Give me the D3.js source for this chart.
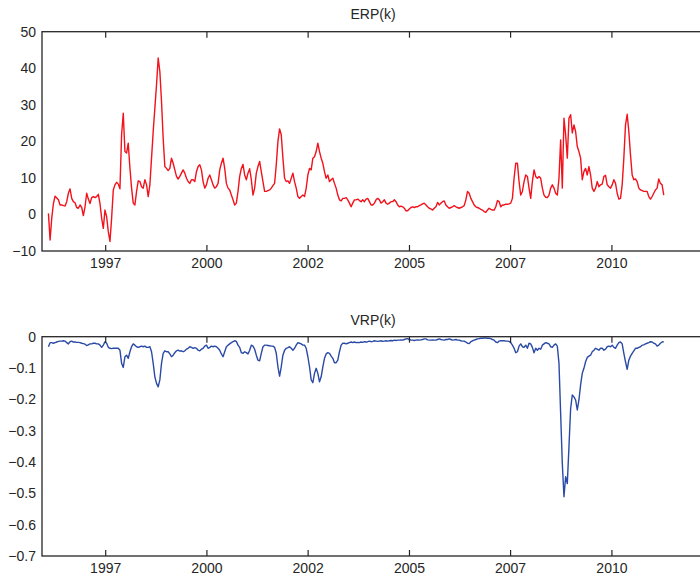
<!DOCTYPE html>
<html>
<head>
<meta charset="utf-8">
<script src="https://cdn.jsdelivr.net/npm/d3@7/dist/d3.min.js"></script>
<style>
  body { margin: 0; background: #fff; }
  svg { display: block; }
  text { font-family: "Liberation Sans", Arial, Helvetica, sans-serif; }
</style>
</head>
<body>
<svg id="chart" width="700" height="582"></svg>
<script>
// Half-monthly observations (15-day step) starting early February 1996
const startDate = new Date(1996, 1, 6);
const stepDays = 15;

// Equity risk premium, ERP(k)
const erp = [
  0.3, -7, -1, 3, 5, 4.5, 4, 2.6, 2.6, 2.4, 2.3, 3.5, 5.8, 7, 4.4, 3.5, 3.2, 1.9, 1.7, 2.6,
  1.9, -0.3, 2.1, 5.8, 4.2, 3, 4.6, 4.9, 4.6, 4.9, 5.5, 3, -1, -3.8, 1.2, -0.6, -4.7, -7.4, -1, 6.7,
  8.1, 8.8, 8.3, 7, 21.8, 27.7, 17.2, 16.8, 19.5, 12.7, 7.2, 3.1, 2.6, 6.3, 9.2, 9, 7.6, 7.2, 9.5, 8.1,
  4.9, 8.1, 15.4, 22.7, 29.1, 35.5, 42.8, 39.1, 30.9, 20.8, 13.1, 12.6, 12, 12.6, 15.4, 14, 12.2, 10.4, 9.7, 10.4,
  11.3, 12.2, 11.3, 9.9, 9, 8.5, 9.5, 9.5, 9, 11.7, 13.1, 13.6, 12.2, 9, 7.2, 8.1, 9.9, 10.8, 9.5, 8.1,
  7.2, 7.6, 8.5, 12.2, 14, 15.4, 12.6, 8.5, 7.2, 6.7, 5.3, 4, 2.6, 3.1, 6.3, 10.4, 12.6, 13.7, 10.8, 9.5,
  11.3, 12.5, 9.5, 5.3, 7.2, 11.3, 13.1, 14.5, 11.7, 9, 6.3, 6.3, 6.5, 6.7, 7.2, 7.9, 8.5, 13.6, 20, 23.4,
  21.8, 15.4, 9.9, 9, 9.2, 8.5, 9.9, 11.3, 9, 7.2, 4.9, 4.4, 4.9, 5.3, 4.9, 7.2, 10.8, 12.6, 12.2, 15.4,
  15.8, 17.2, 19.5, 17.2, 15.4, 14, 11.7, 9.9, 10.8, 9, 9.5, 9.9, 8.5, 7.2, 5.3, 4, 3.7, 4.4, 4.4, 4.6,
  4, 3.1, 2.1, 3.1, 4, 4, 4.2, 3.8, 3.5, 4, 3.5, 4.2, 4.4, 3.5, 2.6, 2.6, 3.1, 4, 4.4, 4,
  3.1, 3.5, 4, 3.1, 2.8, 3.1, 3.5, 3.5, 4, 3.5, 2.6, 2.1, 2.3, 2.1, 1.7, 1, 1, 1.5, 1.9, 2.1,
  1.9, 2.1, 2.1, 2.4, 2.6, 2.9, 3.1, 2.6, 2.1, 1.7, 1.5, 1.2, 1.7, 2.1, 3.3, 2.6, 3.1, 3.5, 3.7, 2.6,
  2.1, 1.7, 1.9, 2.1, 2.4, 2.1, 1.9, 1.7, 1.9, 2.1, 2.4, 4, 6.3, 5.8, 4.4, 3.5, 2.6, 2.1, 1.9, 1.7,
  1.4, 1.2, 0.8, 0.6, 1.2, 1.7, 1.4, 1.2, 1.2, 2.1, 3.8, 3.5, 2.1, 2.6, 2.6, 2.8, 2.8, 2.9, 3.1, 4.4,
  9.9, 14, 14, 9, 5.3, 6.3, 9, 10.8, 10.4, 7.2, 4.4, 9, 12.2, 10.4, 9.9, 10.4, 9.9, 7.2, 5.3, 4.7,
  4.6, 5.3, 7.2, 8.1, 7.2, 5.8, 5.3, 9.9, 20.4, 7.2, 26.3, 21.8, 15.4, 26.3, 27.3, 22.3, 24.5, 22.7, 18.6, 17.2,
  15.4, 9.5, 11.7, 12.6, 10.8, 13.1, 10.8, 7.2, 6.3, 7.2, 9, 7.6, 8.1, 8.3, 10.4, 10.7, 8.1, 7.6, 7.2, 8.1,
  9.5, 8.5, 5.8, 4.2, 4.4, 8.1, 15.4, 24.5, 27.4, 22.7, 16.3, 10.8, 9.5, 9.7, 9, 7.2, 6.7, 6.5, 6.3, 6.3,
  6.3, 4.9, 4.2, 4.9, 5.8, 6.7, 7.2, 9.7, 8.5, 8.1, 5.3
];

// Variance risk premium, VRP(k)
const vrp = [
  -0.032, -0.019, -0.019, -0.021, -0.019, -0.017, -0.015, -0.014, -0.014, -0.013,
  -0.014, -0.019, -0.023, -0.016, -0.014, -0.017, -0.017, -0.018, -0.018, -0.019,
  -0.021, -0.022, -0.024, -0.028, -0.026, -0.023, -0.023, -0.021, -0.021, -0.023,
  -0.023, -0.027, -0.034, -0.027, -0.016, -0.021, -0.034, -0.037, -0.038, -0.037,
  -0.037, -0.037, -0.037, -0.043, -0.085, -0.098, -0.064, -0.059, -0.069, -0.048,
  -0.032, -0.023, -0.027, -0.032, -0.034, -0.032, -0.030, -0.032, -0.030, -0.034,
  -0.034, -0.032, -0.048, -0.085, -0.128, -0.149, -0.160, -0.138, -0.085, -0.053,
  -0.045, -0.048, -0.048, -0.055, -0.064, -0.059, -0.051, -0.045, -0.043, -0.046,
  -0.045, -0.048, -0.045, -0.040, -0.037, -0.032, -0.034, -0.037, -0.035, -0.037,
  -0.043, -0.045, -0.040, -0.037, -0.030, -0.027, -0.037, -0.034, -0.030, -0.032,
  -0.030, -0.032, -0.037, -0.043, -0.055, -0.064, -0.048, -0.032, -0.027, -0.023,
  -0.019, -0.016, -0.013, -0.015, -0.027, -0.034, -0.051, -0.053, -0.048, -0.051,
  -0.055, -0.043, -0.027, -0.030, -0.040, -0.059, -0.075, -0.077, -0.053, -0.032,
  -0.027, -0.027, -0.028, -0.029, -0.030, -0.030, -0.034, -0.053, -0.096, -0.126,
  -0.096, -0.059, -0.043, -0.037, -0.035, -0.032, -0.037, -0.043, -0.037, -0.027,
  -0.019, -0.021, -0.023, -0.027, -0.027, -0.037, -0.064, -0.096, -0.138, -0.147,
  -0.117, -0.101, -0.117, -0.144, -0.128, -0.096, -0.069, -0.055, -0.051, -0.053,
  -0.062, -0.069, -0.083, -0.083, -0.075, -0.048, -0.027, -0.021, -0.021, -0.023,
  -0.021, -0.019, -0.017, -0.019, -0.017, -0.019, -0.018, -0.019, -0.017, -0.018,
  -0.016, -0.017, -0.016, -0.014, -0.016, -0.015, -0.013, -0.014, -0.015, -0.014,
  -0.013, -0.015, -0.014, -0.013, -0.014, -0.013, -0.012, -0.013, -0.011, -0.012,
  -0.011, -0.011, -0.010, -0.011, -0.009, -0.007, -0.006, -0.009, -0.011, -0.011,
  -0.012, -0.011, -0.010, -0.011, -0.010, -0.009, -0.007, -0.007, -0.010, -0.011,
  -0.011, -0.010, -0.011, -0.011, -0.009, -0.007, -0.009, -0.010, -0.011, -0.009,
  -0.009, -0.007, -0.009, -0.011, -0.010, -0.009, -0.011, -0.011, -0.013, -0.014,
  -0.014, -0.017, -0.021, -0.022, -0.016, -0.013, -0.011, -0.009, -0.007, -0.006,
  -0.005, -0.005, -0.004, -0.004, -0.005, -0.005, -0.006, -0.009, -0.011, -0.017,
  -0.019, -0.014, -0.013, -0.013, -0.013, -0.014, -0.014, -0.015, -0.019, -0.027,
  -0.037, -0.051, -0.048, -0.030, -0.023, -0.032, -0.034, -0.027, -0.037, -0.021,
  -0.023, -0.034, -0.051, -0.037, -0.043, -0.037, -0.040, -0.027, -0.023, -0.019,
  -0.021, -0.023, -0.032, -0.034, -0.027, -0.023, -0.030, -0.085, -0.245, -0.405,
  -0.511, -0.447, -0.469, -0.351, -0.230, -0.186, -0.192, -0.202, -0.234, -0.202,
  -0.154, -0.117, -0.101, -0.080, -0.066, -0.062, -0.059, -0.048, -0.043, -0.037,
  -0.040, -0.043, -0.037, -0.037, -0.043, -0.040, -0.032, -0.030, -0.032, -0.027,
  -0.034, -0.037, -0.027, -0.019, -0.017, -0.023, -0.053, -0.080, -0.104, -0.075,
  -0.062, -0.053, -0.045, -0.037, -0.037, -0.034, -0.032, -0.027, -0.026, -0.023,
  -0.021, -0.019, -0.016, -0.017, -0.021, -0.023, -0.030, -0.027, -0.021, -0.017,
  -0.016
];

// Date axis: evenly spaced ticks labelled by year
const tickDates = [new Date(1997, 6, 2), new Date(2000, 0, 1), new Date(2002, 6, 2),
                   new Date(2005, 0, 1), new Date(2007, 6, 2), new Date(2010, 0, 1)];
const tickLabels = ["1997", "2000", "2002", "2005", "2007", "2010"];

const erpTicks = [50, 40, 30, 20, 10, 0, -10];
const erpTickLabels = ["50", "40", "30", "20", "10", "0", "\u221210"];
const vrpTicks = [0, -0.1, -0.2, -0.3, -0.4, -0.5, -0.6, -0.7];
const vrpTickLabels = ["0", "\u22120.1", "\u22120.2", "\u22120.3", "\u22120.4", "\u22120.5", "\u22120.6", "\u22120.7"];

const dates = erp.map((_, i) => d3.timeDay.offset(startDate, i * stepDays));

const svg = d3.select("#chart");
svg.append("rect").attr("width", 700).attr("height", 582).attr("fill", "#fff");

const x = d3.scaleTime()
  .domain([new Date(1995, 11, 10), new Date(2012, 3, 15)])
  .range([42, 704]);

const axisColor = "#262626";
const fontSize = 14;

function panel(opts) {
  const { top, bottom, values, domain, ticks, labels, color, title, titleY } = opts;
  const y = d3.scaleLinear().domain(domain).range([bottom, top]);
  const g = svg.append("g");

  // series line
  const line = d3.line()
    .x((d, i) => x(dates[i]))
    .y(d => y(d));
  g.append("path")
    .datum(values)
    .attr("fill", "none")
    .attr("stroke", color)
    .attr("stroke-width", 1.4)
    .attr("stroke-linejoin", "round")
    .attr("d", line);

  // bottom axis with inward ticks
  const xb = d3.axisBottom(x)
    .tickValues(tickDates)
    .tickFormat((d, i) => tickLabels[i])
    .tickSizeInner(-6)
    .tickSizeOuter(0)
    .tickPadding(7);
  const gb = g.append("g").attr("transform", `translate(0,${bottom})`).call(xb);

  // top axis, ticks only
  const xt = d3.axisTop(x)
    .tickValues(tickDates)
    .tickFormat("")
    .tickSizeInner(-6)
    .tickSizeOuter(0);
  const gt = g.append("g").attr("transform", `translate(0,${top})`).call(xt);

  // left axis, labels only
  const yl = d3.axisLeft(y)
    .tickValues(ticks)
    .tickFormat((d, i) => labels[i])
    .tickSize(0)
    .tickPadding(6);
  const gl = g.append("g").attr("transform", `translate(42,0)`).call(yl);

  [gb, gt, gl].forEach(a => {
    a.select(".domain").remove();
    a.selectAll("line").attr("stroke", axisColor).attr("stroke-width", 1.2);
    a.selectAll("text").attr("fill", axisColor).attr("font-size", fontSize)
      .attr("font-family", '"Liberation Sans", Arial, Helvetica, sans-serif');
  });

  // axes box
  g.append("rect")
    .attr("x", 42).attr("y", top)
    .attr("width", 704 - 42).attr("height", bottom - top)
    .attr("fill", "none")
    .attr("stroke", axisColor)
    .attr("stroke-width", 1.3);

  g.append("text")
    .attr("x", (42 + 704) / 2)
    .attr("y", titleY)
    .attr("text-anchor", "middle")
    .attr("font-size", fontSize)
    .attr("fill", axisColor)
    .text(title);
}

panel({ top: 31.7, bottom: 251, values: erp, domain: [-10, 50], ticks: erpTicks,
        labels: erpTickLabels, color: "#f2121c", title: "ERP(k)", titleY: 19 });
panel({ top: 336.7, bottom: 556, values: vrp, domain: [-0.7, 0], ticks: vrpTicks,
        labels: vrpTickLabels, color: "#2a4aa6", title: "VRP(k)", titleY: 324.5 });
</script>
</body>
</html>
